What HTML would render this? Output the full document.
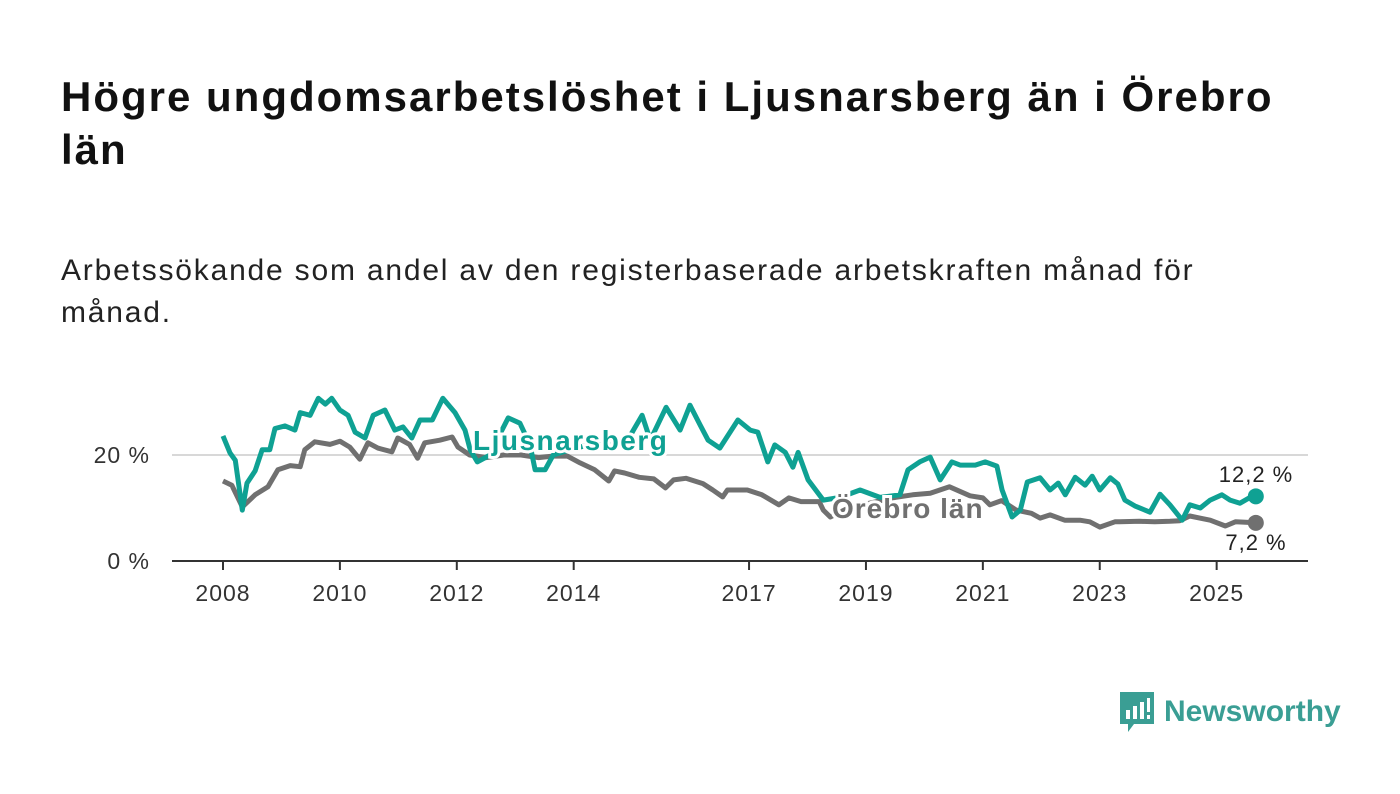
<!DOCTYPE html>
<html><head><meta charset="utf-8">
<style>
body{margin:0;background:#fff;width:1400px;height:794px;overflow:hidden;font-family:"Liberation Sans","DejaVu Sans",sans-serif;}
h1{position:absolute;left:61px;top:70px;margin:0;font-size:42px;letter-spacing:2px;line-height:53px;font-weight:700;color:#111;width:1240px}
.sub{position:absolute;left:61px;top:250px;font-size:30px;letter-spacing:1.8px;line-height:42px;color:#222;width:1250px}
svg{position:absolute;left:0;top:0}
</style></head><body>
<h1>Högre ungdomsarbetslöshet i Ljusnarsberg än i Örebro län</h1>
<div class="sub">Arbetssökande som andel av den registerbaserade arbetskraften månad för månad.</div>
<svg id="chart" width="1400" height="794"></svg>
<div style="position:absolute;left:1118px;top:690px;display:flex;align-items:center;">
<svg width="38" height="44" style="position:static"><path d="M2 2h34v32H16l-6 8v-8H2z" fill="#3a9e94"/><rect x="8" y="20" width="4" height="9" fill="#fff"/><rect x="15" y="16" width="4" height="13" fill="#fff"/><rect x="22" y="12" width="4" height="17" fill="#fff"/><rect x="29" y="8" width="3" height="14" fill="#fff"/><rect x="29" y="25" width="3" height="4" fill="#fff"/></svg>
<span style="font-size:30px;font-weight:700;color:#3a9e94;margin-left:8px">Newsworthy</span></div>
<script>
const tealYears=[2008.00,2008.12,2008.21,2008.33,2008.41,2008.55,2008.67,2008.80,2008.89,2009.06,2009.23,2009.32,2009.49,2009.63,2009.75,2009.86,2010.00,2010.14,2010.26,2010.43,2010.57,2010.77,2010.94,2011.08,2011.23,2011.37,2011.58,2011.76,2011.97,2012.14,2012.23,2012.35,2012.57,2012.74,2012.88,2013.08,2013.25,2013.34,2013.51,2013.65,2013.94,2014.28,2014.62,2014.88,2015.17,2015.31,2015.58,2015.82,2015.99,2016.16,2016.30,2016.50,2016.81,2017.02,2017.15,2017.32,2017.44,2017.62,2017.75,2017.84,2018.01,2018.27,2018.56,2018.90,2019.24,2019.58,2019.72,2019.92,2020.10,2020.27,2020.47,2020.61,2020.87,2021.04,2021.24,2021.33,2021.50,2021.64,2021.76,2021.98,2022.15,2022.29,2022.41,2022.58,2022.75,2022.87,2023.00,2023.18,2023.31,2023.43,2023.60,2023.86,2024.03,2024.20,2024.41,2024.54,2024.72,2024.89,2025.09,2025.23,2025.40,2025.57,2025.67];
const tealValues=[23.6,20.4,19,9.6,14.7,17,21,21,25,25.5,24.7,28,27.5,30.7,29.6,30.7,28.5,27.5,24.3,23.2,27.5,28.5,24.7,25.3,23.2,26.6,26.6,30.7,28,24.7,21,18.7,20,24,27,26,22,17.2,17.2,20,21,22,22,22,27.5,22.8,29,24.7,29.4,25.7,22.8,21.3,26.6,24.7,24.3,18.7,21.9,20.5,17.7,20.5,15.3,11.5,12,13.4,12,12.5,17.2,18.7,19.6,15.3,18.7,18.1,18.1,18.7,17.9,13.4,8.3,9.6,14.9,15.7,13.4,14.7,12.5,15.8,14.3,16,13.4,15.7,14.5,11.5,10.4,9.2,12.6,10.6,7.7,10.6,10,11.5,12.5,11.5,10.9,12,12.2];
const greyYears=[2008.00,2008.15,2008.33,2008.55,2008.77,2008.94,2009.15,2009.32,2009.40,2009.57,2009.83,2010.00,2010.17,2010.34,2010.48,2010.65,2010.89,2010.99,2011.19,2011.33,2011.45,2011.71,2011.92,2012.02,2012.22,2012.50,2012.80,2013.10,2013.40,2013.64,2013.89,2014.11,2014.36,2014.60,2014.70,2014.87,2015.12,2015.37,2015.57,2015.71,2015.92,2016.21,2016.38,2016.55,2016.63,2016.97,2017.22,2017.51,2017.68,2017.89,2018.20,2018.27,2018.39,2018.70,2019.10,2019.50,2019.80,2020.10,2020.43,2020.78,2021.00,2021.12,2021.32,2021.57,2021.83,2021.98,2022.15,2022.40,2022.66,2022.83,2023.00,2023.26,2023.34,2023.68,2023.94,2024.20,2024.37,2024.54,2024.71,2024.89,2025.15,2025.32,2025.67];
const greyValues=[15.1,14.3,10.2,12.5,14,17.2,18,17.8,21,22.5,22,22.6,21.5,19.2,22.3,21.3,20.6,23.2,22,19.4,22.3,22.8,23.4,21.5,20,19.5,20,20,19.5,19.8,19.8,18.5,17.2,15.1,17,16.6,15.8,15.5,13.8,15.3,15.6,14.6,13.4,12.1,13.4,13.4,12.5,10.6,11.9,11.2,11.2,9.6,8.3,10,11,12,12.5,12.8,14,12.3,11.9,10.6,11.4,9.6,9,8.1,8.7,7.7,7.7,7.4,6.4,7.4,7.4,7.5,7.4,7.5,7.6,8.5,8.1,7.7,6.6,7.4,7.2];
const xTicks=[2008,2010,2012,2014,2017,2019,2021,2023,2025];
const yTicks=[0,20];
const yTickLabels=["0 %","20 %"];
const NS='http://www.w3.org/2000/svg';
const svg=document.getElementById('chart');
const X=y=>223+(y-2008)*58.45;
const Y=v=>561-v*5.3;
function mk(t,a,p){const e=document.createElementNS(NS,t);for(const k in a)e.setAttribute(k,a[k]);(p||svg).appendChild(e);return e;}
yTicks.forEach((t,i)=>{
 if(t>0){const g=mk('line',{x1:172,x2:1308,y1:Y(t),y2:Y(t),stroke:'#d8d8d8','stroke-width':2});
 
 }
 const l=mk('text',{x:150,y:Y(t)+8,'text-anchor':'end','font-size':23,'letter-spacing':1,fill:'#333'});l.textContent=yTickLabels[i];
 
 
});
const ax=mk('line',{x1:172,x2:1308,y1:561,y2:561,stroke:'#333','stroke-width':2});


xTicks.forEach(t=>{
 const tk=mk('line',{x1:X(t),x2:X(t),y1:561,y2:570,stroke:'#333','stroke-width':2});
 
 
 const l=mk('text',{x:X(t),y:601,'text-anchor':'middle','font-size':23,'letter-spacing':1,fill:'#333'});l.textContent=t;
 
 
});
function line(ys,vs,c,name){
 const d=ys.map((y,i)=>(i?'L':'M')+X(y).toFixed(1)+' '+Y(vs[i]).toFixed(1)).join(' ');
 const p=mk('path',{d:d,fill:'none',stroke:c,'stroke-width':5,'stroke-linejoin':'round'});
 
 
 const n=ys.length-1;
 const c1=mk('circle',{cx:X(ys[n]),cy:Y(vs[n]),r:8,fill:c});
 
 
}
line(greyYears,greyValues,'#707070','orebro');
line(tealYears,tealValues,'#0fa193','ljusnarsberg');
function lab(x,y,t,c,sz,w,a,name,ls){
 const e=mk('text',{x:x,y:y,'font-size':sz,'font-weight':w,'letter-spacing':ls,fill:c,stroke:'#fff','stroke-width':w==700?6:5,'paint-order':'stroke','text-anchor':a});e.textContent=t;
 
 
}
lab(473,450,'Ljusnarsberg','#0fa193',28,700,'start','ljusnarsberg-label',1.5);
lab(832,518,'Örebro län','#707070',28,700,'start','orebro-label',1);
const nT=tealValues.length-1,nG=greyValues.length-1;
lab(1256,482,tealValues[nT].toFixed(1).replace('.',',')+' %','#222',22,400,'middle','ljusnarsberg-end-value',1);
lab(1256,550,greyValues[nG].toFixed(1).replace('.',',')+' %','#222',22,400,'middle','orebro-end-value',1);
</script>
</body></html>
